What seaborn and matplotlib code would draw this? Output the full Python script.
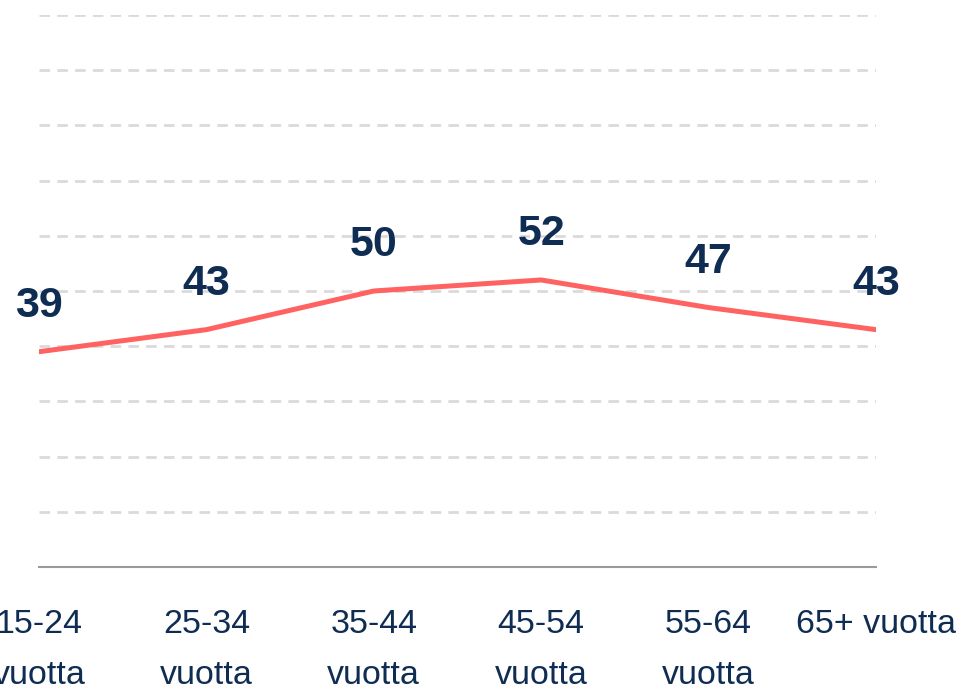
import pandas as pd
import matplotlib.pyplot as plt
import seaborn as sns

age_groups = ['15-24\nvuotta', '25-34\nvuotta', '35-44\nvuotta', '45-54\nvuotta', '55-64\nvuotta', '65+ vuotta']
values = [39, 43, 50, 52, 47, 43]

df = pd.DataFrame({'Ikäryhmä': age_groups, 'Arvo': values})

sns.set_style('white')
plt.rcParams['font.family'] = ['Liberation Sans', 'DejaVu Sans']

navy = '#0f2d52'
fig = plt.figure(figsize=(9.61, 6.91), dpi=100)
ax = fig.add_axes([39 / 961, 1 - 567 / 691, (876 - 39) / 961, (567 - 15) / 691])

sns.lineplot(data=df, x='Ikäryhmä', y='Arvo', sort=False, color='#ff6361', linewidth=3.6, ax=ax, zorder=3)

for i, v in enumerate(values):
    ax.annotate(str(v), (i, v), xytext=(0, 33), textcoords='offset points',
                ha='center', va='center', fontsize=31, fontweight='bold', color=navy)

ax.set_xlim(0, len(age_groups) - 1)
ax.set_ylim(0, 100)
ax.set_yticks(range(0, 101, 10))
ax.set_yticklabels([])
ax.tick_params(axis='y', length=0)
ax.tick_params(axis='x', length=0, pad=30, labelsize=24.5, labelcolor=navy)
for lbl in ax.get_xticklabels():
    lbl.set_linespacing(1.85)
ax.grid(axis='y', color='#dadada', linestyle=(0, (3.8, 2.6)), linewidth=2)
ax.set_axisbelow(True)
ax.set_xlabel('')
ax.set_ylabel('')
for s in ['top', 'right', 'left']:
    ax.spines[s].set_visible(False)
ax.spines['bottom'].set_color('#9a9a9a')
ax.spines['bottom'].set_linewidth(1.5)
ax.spines['bottom'].set_zorder(4)

plt.savefig('out.png', dpi=100)
